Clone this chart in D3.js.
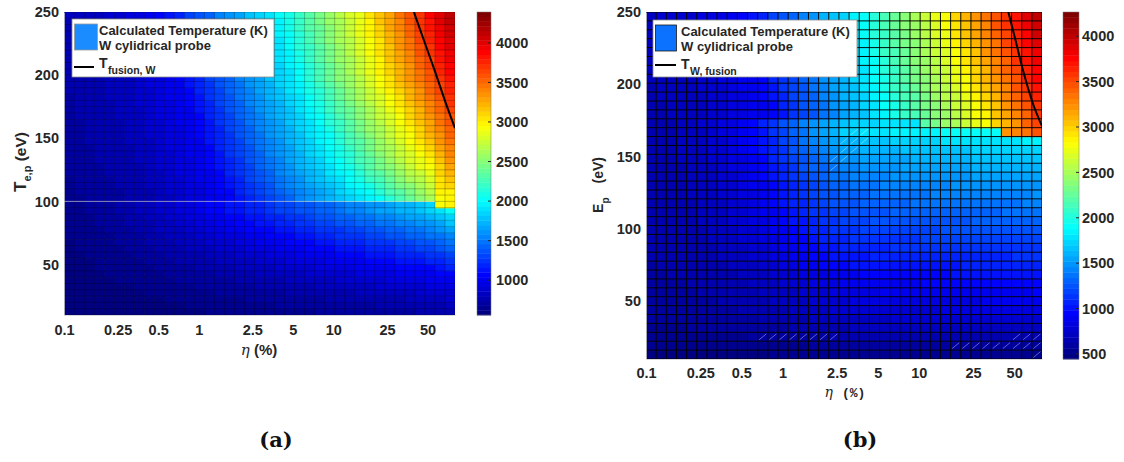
<!DOCTYPE html>
<html>
<head>
<meta charset="utf-8">
<script src="https://cdn.jsdelivr.net/npm/d3@7"></script>
<style>
  html, body { margin: 0; padding: 0; background: #fff; }
  svg { display: block; }
</style>
</head>
<body>
<svg id="fig" width="1124" height="462"></svg>
<script>
// ---- grid coordinates -------------------------------------------------
// eta (%) cell edges, log spaced from 0.1 to 80
const etaEdges = [0.1, 0.1187, 0.1409, 0.1672, 0.1985, 0.2356, 0.2797, 0.3320, 0.3940, 0.4677,
  0.5551, 0.6589, 0.7821, 0.9284, 1.1019, 1.3080, 1.5525, 1.8428, 2.1873, 2.5962,
  3.0817, 3.6578, 4.3417, 5.1534, 6.1169, 7.2606, 8.6180, 10.229, 12.141, 14.411,
  17.106, 20.304, 24.100, 28.606, 33.954, 40.302, 47.837, 56.781, 67.396, 80];
// electron temperature cell edges (eV), panel (a)
const teEdges = [10, 15, 20, 25, 30, 35, 40, 45, 50, 55, 60, 65, 70, 75, 80, 85, 90, 95, 100,
  105, 110, 115, 120, 125, 130, 135, 140, 145, 150, 155, 160, 165, 170, 175, 180, 185, 190,
  195, 200, 205, 210, 215, 220, 225, 230, 235, 240, 245, 250];
// ion energy cell edges (eV), panel (b)
const epEdges = [10, 16.15, 22.31, 28.46, 34.62, 40.77, 46.92, 53.08, 59.23, 65.38, 71.54,
  77.69, 83.85, 90, 96.15, 102.31, 108.46, 114.62, 120.77, 126.92, 133.08, 139.23, 145.38,
  151.54, 157.69, 163.85, 170, 176.15, 182.31, 188.46, 194.62, 200.77, 206.92, 213.08,
  219.23, 225.38, 231.54, 237.69, 243.85, 250];

// ---- calculated probe temperature (K) ----------------------------------
// panel (a): one row per Te cell, from Te = 10 eV upwards; 39 eta cells per row
const tempA = [
  [560,563,566,569,573,577,581,585,590,596,601,606,611,617,622,627,632,638,644,649,655,660,665,670,676,681,686,692,698,703,709,714,721,726,732,740,747,757,770],
  [565,569,572,576,580,585,590,594,601,607,613,619,625,631,637,643,650,656,663,669,675,681,688,694,700,706,712,719,725,732,739,745,752,759,766,774,783,795,810],
  [570,574,579,583,587,593,599,605,612,619,627,634,641,648,656,663,670,677,686,693,701,708,715,722,730,737,744,753,760,767,776,783,792,799,808,818,828,843,860],
  [575,580,585,590,595,602,609,615,624,632,640,649,657,665,674,682,691,699,709,717,726,734,743,751,759,768,776,786,794,803,813,821,831,840,850,861,873,890,910],
  [580,586,592,598,603,611,619,627,637,646,656,666,676,685,695,705,715,724,736,746,756,765,775,785,795,804,814,826,835,845,857,867,878,888,900,913,927,947,970],
  [585,592,598,605,612,621,630,638,650,661,672,683,694,705,716,727,739,750,763,774,785,796,808,819,830,841,852,865,876,888,901,912,925,937,950,965,981,1003,1030],
  [590,598,605,613,620,630,640,650,663,675,688,700,713,725,738,750,763,775,790,803,815,828,840,853,865,878,890,905,918,930,945,958,973,985,1000,1018,1035,1060,1090],
  [595,603,612,620,629,640,652,663,677,691,705,719,733,748,762,776,790,804,821,835,849,863,878,892,906,920,934,951,965,979,996,1010,1027,1041,1058,1078,1098,1126,1160],
  [600,610,619,629,638,651,664,677,693,709,725,741,757,773,789,805,821,837,856,872,888,904,920,936,952,968,984,1003,1019,1035,1054,1070,1090,1106,1125,1147,1170,1202,1240],
  [605,616,626,637,648,662,677,691,709,727,744,762,780,798,816,834,852,870,891,909,927,945,963,980,998,1016,1034,1055,1073,1091,1113,1131,1152,1170,1191,1216,1241,1277,1320],
  [610,622,634,646,657,673,689,705,725,744,764,784,804,823,843,863,883,902,926,946,966,985,1005,1025,1045,1064,1084,1108,1127,1147,1171,1191,1214,1234,1258,1285,1313,1353,1400],
  [615,628,641,654,667,684,702,719,740,762,784,805,827,849,870,892,913,935,961,983,1004,1026,1048,1069,1091,1112,1134,1160,1182,1203,1229,1251,1277,1298,1324,1355,1385,1428,1480],
  [620,634,649,663,677,696,715,734,758,782,805,829,853,877,900,924,948,972,1000,1024,1048,1071,1095,1119,1143,1166,1190,1219,1242,1266,1295,1318,1347,1371,1399,1432,1466,1513,1570],
  [625,641,656,672,687,708,729,749,775,801,827,853,879,904,930,956,982,1008,1039,1065,1091,1117,1143,1168,1194,1220,1246,1277,1303,1329,1360,1386,1417,1443,1474,1510,1546,1598,1660],
  [630,647,664,681,698,720,743,766,794,822,850,879,907,935,963,992,1020,1048,1082,1110,1139,1167,1195,1223,1252,1280,1308,1342,1370,1398,1432,1461,1494,1523,1557,1596,1636,1692,1760],
  [635,653,672,690,709,733,758,782,813,843,874,905,935,966,996,1027,1058,1088,1125,1156,1186,1217,1248,1278,1309,1339,1370,1407,1437,1468,1505,1535,1572,1603,1640,1682,1725,1787,1860],
  [640,660,681,701,722,749,776,803,837,871,905,939,973,1007,1041,1075,1109,1143,1184,1218,1252,1286,1320,1354,1388,1422,1456,1497,1531,1565,1606,1640,1680,1714,1755,1803,1850,1918,2000],
  [645,665,685,706,726,753,780,806,840,874,907,941,975,1008,1042,1075,1109,1143,1183,1217,1250,1284,1318,1351,1385,1418,1452,1492,1526,1560,1600,1634,1674,1708,1748,1795,1842,2950,2960],
  [660,675,689,704,719,733,748,763,783,817,851,886,920,954,989,1023,1072,1136,1200,1264,1328,1392,1456,1520,1584,1648,1712,1776,1840,1904,1968,2055,2164,2273,2382,2491,2600,2950,2990],
  [666,681,695,710,725,739,754,769,792,827,861,896,930,964,999,1041,1095,1161,1227,1293,1359,1425,1491,1557,1623,1689,1755,1821,1893,1965,2038,2128,2237,2345,2453,2562,2670,2970,3000],
  [672,687,701,716,731,746,761,776,802,836,871,906,940,974,1009,1059,1118,1186,1254,1322,1390,1458,1526,1594,1662,1730,1798,1866,1946,2027,2108,2202,2310,2417,2525,2632,2740,3030,3080],
  [678,693,708,723,738,752,767,782,811,846,880,915,950,985,1020,1078,1142,1211,1281,1351,1421,1491,1561,1631,1700,1770,1840,1910,2000,2088,2177,2275,2382,2489,2596,2703,2810,3050,3170],
  [684,699,714,729,744,759,774,789,821,855,890,924,960,995,1030,1096,1165,1236,1308,1380,1452,1524,1596,1668,1739,1811,1883,1955,2053,2150,2248,2349,2455,2561,2668,2774,2880,3090,3230],
  [690,705,720,735,750,765,780,795,830,865,900,935,970,1005,1040,1114,1188,1261,1335,1409,1483,1557,1631,1705,1778,1852,1926,2000,2106,2211,2317,2422,2528,2633,2739,2844,2950,3120,3290],
  [695,710,725,740,755,770,785,802,837,872,907,942,977,1012,1055,1130,1204,1278,1353,1427,1502,1576,1651,1726,1799,1874,1952,2034,2141,2247,2354,2461,2568,2674,2781,2893,3005,3169,3332],
  [700,715,730,745,760,775,790,809,844,879,914,949,984,1019,1071,1146,1221,1295,1371,1446,1521,1596,1671,1746,1821,1896,1978,2067,2175,2283,2391,2499,2608,2715,2823,2942,3060,3217,3374],
  [705,720,735,750,765,780,795,816,851,886,921,956,991,1026,1086,1162,1237,1313,1388,1464,1540,1615,1691,1767,1842,1918,2004,2101,2210,2319,2429,2538,2647,2756,2866,2990,3115,3266,3416],
  [710,725,740,755,770,785,800,823,858,893,928,963,998,1033,1102,1178,1254,1330,1406,1483,1559,1635,1711,1787,1864,1940,2030,2134,2244,2355,2466,2576,2687,2797,2908,3039,3170,3314,3458],
  [715,730,745,760,775,790,805,830,865,900,935,970,1005,1040,1117,1194,1270,1347,1424,1501,1578,1654,1731,1808,1885,1962,2056,2168,2279,2391,2503,2615,2727,2838,2950,3088,3225,3363,3500],
  [719,734,749,764,779,795,810,837,872,908,943,978,1013,1058,1135,1212,1289,1366,1443,1520,1598,1674,1752,1829,1906,1989,2088,2201,2312,2425,2538,2650,2763,2876,2992,3128,3264,3400,3535],
  [723,738,754,769,784,799,814,844,880,915,950,986,1021,1075,1153,1230,1307,1385,1462,1540,1618,1695,1772,1850,1927,2016,2120,2233,2346,2459,2572,2686,2799,2914,3035,3169,3302,3437,3570],
  [727,742,758,773,788,804,818,851,887,923,958,993,1028,1093,1170,1248,1326,1404,1481,1559,1638,1715,1792,1870,1948,2042,2151,2266,2379,2493,2607,2721,2834,2952,3077,3209,3341,3474,3605],
  [731,746,762,777,792,808,823,858,894,930,965,1001,1036,1110,1188,1266,1344,1422,1500,1578,1657,1735,1813,1891,1969,2069,2183,2298,2412,2527,2641,2756,2870,2989,3119,3249,3379,3510,3640],
  [735,750,766,781,796,812,829,865,901,937,973,1009,1053,1128,1206,1285,1363,1442,1520,1598,1678,1756,1834,1913,1999,2103,2218,2334,2448,2564,2679,2795,2910,3031,3159,3289,3417,3548,3676],
  [739,754,770,785,800,816,836,872,908,944,980,1017,1070,1146,1225,1304,1382,1461,1540,1619,1698,1777,1856,1935,2029,2137,2254,2371,2483,2600,2717,2834,2950,3073,3199,3329,3455,3586,3712],
  [742,758,774,789,805,821,842,878,915,952,988,1024,1086,1164,1243,1322,1402,1481,1560,1639,1719,1798,1877,1956,2060,2172,2289,2407,2519,2637,2754,2872,2990,3116,3240,3370,3494,3624,3748],
  [746,762,778,793,809,825,849,885,922,959,995,1032,1103,1182,1262,1341,1421,1500,1580,1660,1739,1819,1899,1978,2090,2206,2325,2444,2554,2673,2792,2911,3030,3158,3280,3410,3532,3662,3784],
  [750,766,782,797,813,829,855,892,929,966,1003,1040,1120,1200,1280,1360,1440,1520,1600,1680,1760,1840,1920,2000,2120,2240,2360,2480,2590,2710,2830,2950,3070,3200,3320,3450,3570,3700,3820],
  [755,771,787,802,818,834,862,899,936,973,1010,1056,1136,1216,1296,1376,1456,1536,1616,1696,1776,1856,1936,2024,2142,2262,2380,2500,2610,2730,2848,2970,3094,3224,3346,3478,3600,3732,3854],
  [760,776,792,807,823,839,870,907,944,981,1018,1072,1152,1232,1312,1392,1472,1552,1632,1712,1792,1872,1952,2048,2164,2284,2400,2520,2630,2750,2866,2990,3118,3248,3372,3506,3630,3764,3888],
  [765,781,797,813,829,845,877,914,951,988,1025,1088,1168,1248,1328,1408,1488,1568,1648,1728,1808,1888,1968,2072,2186,2306,2420,2540,2650,2770,2884,3010,3142,3272,3398,3534,3660,3796,3922],
  [770,786,802,818,834,850,885,922,959,996,1033,1104,1184,1264,1344,1424,1504,1584,1664,1744,1824,1904,1984,2096,2208,2328,2440,2560,2670,2790,2902,3030,3166,3296,3424,3562,3690,3828,3956],
  [775,791,807,823,839,855,892,929,966,1003,1040,1120,1200,1280,1360,1440,1520,1600,1680,1760,1840,1920,2000,2120,2230,2350,2460,2580,2690,2810,2920,3050,3190,3320,3450,3590,3720,3860,3990],
  [780,796,812,828,844,862,899,936,973,1010,1056,1136,1216,1296,1376,1456,1536,1616,1696,1776,1856,1936,2022,2140,2252,2370,2480,2598,2708,2826,2940,3072,3212,3344,3478,3618,3750,3890,4022],
  [785,801,817,833,849,869,906,943,981,1018,1072,1152,1232,1312,1392,1472,1552,1632,1712,1792,1872,1952,2044,2160,2274,2390,2500,2616,2726,2842,2960,3094,3234,3368,3506,3646,3780,3920,4054],
  [790,806,822,838,854,877,914,951,988,1025,1088,1168,1248,1328,1408,1488,1568,1648,1728,1808,1888,1968,2066,2180,2296,2410,2520,2634,2744,2858,2980,3116,3256,3392,3534,3674,3810,3950,4086],
  [795,811,827,843,859,883,920,958,995,1033,1104,1184,1264,1344,1424,1504,1584,1664,1744,1824,1904,1984,2090,2200,2320,2430,2540,2650,2770,2880,3000,3140,3280,3420,3560,3700,3840,3980,4120],
  [800,816,832,848,864,891,928,965,1003,1040,1120,1200,1280,1360,1440,1520,1600,1680,1760,1840,1920,2000,2110,2220,2340,2450,2560,2670,2780,2890,3020,3160,3300,3440,3590,3730,3870,4010,4150]
];

// panel (b): one row per E_p cell, from E_p = 10 eV upwards; 39 eta cells per row
const tempB = [
  [480,481,482,482,484,486,487,490,492,495,498,502,506,510,514,518,523,528,533,537,540,542,544,546,547,548,549,550,550,552,553,554,554,555,556,557,558,558,560],
  [510,511,512,513,516,518,520,523,527,531,535,540,545,551,556,563,569,576,583,588,593,596,598,600,602,604,605,606,607,609,610,611,612,613,615,616,617,618,620],
  [535,536,538,539,542,545,548,552,557,563,568,574,581,589,596,605,613,622,631,638,644,648,651,654,657,658,660,661,663,666,667,668,670,671,673,674,676,677,680],
  [555,557,559,560,564,567,571,576,581,588,595,602,611,620,629,639,650,660,671,679,686,692,695,699,702,704,706,707,709,713,714,716,718,720,721,723,725,727,730],
  [570,572,574,576,581,585,589,595,602,610,618,627,637,648,658,671,683,696,709,719,728,734,738,742,746,749,751,753,755,759,761,763,765,767,770,772,774,776,780],
  [585,587,590,592,597,602,607,614,622,632,641,651,663,676,688,703,717,732,747,759,769,776,781,786,791,793,796,798,801,806,808,810,813,815,818,820,823,825,830],
  [595,598,601,604,609,615,621,629,638,649,661,672,686,700,715,732,749,766,783,797,809,817,823,829,834,837,840,843,846,852,854,857,860,863,866,869,871,874,880],
  [605,608,611,615,621,627,634,643,653,666,679,691,707,723,739,759,778,797,816,832,845,855,861,867,874,877,880,883,887,893,896,899,903,906,909,912,915,919,925],
  [612,616,619,623,630,637,644,655,666,680,694,709,727,744,762,784,805,827,848,866,881,891,898,906,913,916,920,923,927,934,938,941,945,949,952,956,959,963,970],
  [618,622,626,630,638,646,654,666,678,694,710,727,747,767,787,811,835,859,883,903,920,932,940,948,956,960,964,968,972,980,984,988,992,996,1000,1004,1008,1012,1020],
  [623,627,632,636,645,654,663,676,694,711,734,760,791,822,853,884,910,937,959,977,990,999,1008,1012,1016,1021,1025,1030,1034,1038,1041,1043,1047,1050,1052,1056,1058,1061,1065],
  [627,632,637,641,651,661,670,685,704,724,748,777,811,844,878,912,941,970,994,1013,1028,1038,1047,1052,1057,1062,1067,1071,1076,1081,1083,1086,1091,1093,1096,1100,1103,1105,1110],
  [631,636,642,647,657,668,679,694,716,737,763,795,832,869,906,943,975,1007,1033,1054,1070,1081,1091,1097,1102,1107,1112,1118,1123,1128,1131,1134,1139,1141,1144,1149,1152,1155,1160],
  [634,640,646,651,663,674,686,703,726,749,778,813,853,893,934,974,1008,1043,1072,1095,1112,1124,1135,1141,1147,1152,1158,1164,1170,1175,1178,1181,1187,1190,1193,1198,1201,1204,1210],
  [637,643,649,656,668,681,693,712,737,762,793,830,874,917,961,1005,1042,1079,1110,1135,1154,1167,1179,1185,1191,1198,1204,1210,1216,1223,1226,1229,1235,1238,1241,1248,1251,1254,1260],
  [640,647,653,660,674,687,700,720,747,774,808,848,895,942,988,1035,1076,1116,1149,1176,1196,1210,1223,1230,1236,1243,1250,1256,1263,1270,1273,1277,1283,1287,1290,1297,1300,1303,1310],
  [642,649,656,664,678,692,707,728,757,786,822,865,915,965,1015,1066,1109,1152,1188,1216,1238,1252,1267,1274,1281,1288,1295,1303,1310,1317,1321,1324,1331,1335,1338,1346,1349,1353,1360],
  [644,652,659,667,682,698,713,736,767,797,836,881,935,989,1042,1096,1142,1188,1226,1257,1280,1295,1310,1318,1326,1333,1341,1349,1356,1364,1368,1372,1379,1383,1387,1395,1399,1402,1410],
  [646,654,662,670,687,703,719,744,776,809,850,898,955,1012,1069,1126,1175,1224,1265,1297,1322,1338,1354,1362,1370,1379,1387,1395,1403,1411,1415,1419,1427,1432,1436,1444,1448,1452,1460],
  [648,657,665,674,691,708,726,751,786,820,864,915,976,1036,1096,1157,1208,1260,1303,1338,1363,1381,1398,1407,1415,1424,1432,1441,1450,1458,1463,1467,1476,1480,1484,1493,1497,1501,1510],
  [650,659,668,677,696,714,732,759,796,832,878,932,996,1060,1123,1187,1242,1296,1342,1378,1405,1424,1442,1451,1460,1469,1478,1487,1496,1505,1510,1515,1524,1528,1533,1542,1546,1551,1560],
  [651,661,670,680,699,719,738,767,806,845,893,951,1019,1087,1155,1223,1281,1339,1387,1426,1455,1475,1494,1504,1513,1523,1533,1542,1552,1562,1567,1572,1581,1586,1591,1601,1605,1610,1620],
  [652,662,673,683,703,724,745,775,816,858,909,971,1043,1115,1187,1259,1320,1382,1433,1474,1505,1526,1546,1557,1567,1577,1587,1598,1608,1618,1623,1629,1639,1644,1649,1659,1665,1670,1680],
  [653,664,675,686,708,730,752,785,829,872,927,993,1070,1147,1223,1300,1366,1432,1487,1531,1564,1585,1607,1618,1629,1640,1651,1662,1673,1684,1690,1695,1706,1712,1717,1728,1734,1739,1750],
  [654,666,678,689,713,736,760,795,842,889,948,1019,1101,1183,1266,1348,1418,1489,1548,1595,1630,1654,1677,1689,1701,1712,1724,1736,1748,1759,1765,1771,1783,1789,1795,1806,1812,1818,1830],
  [655,667,680,692,717,742,767,804,854,904,966,1041,1128,1215,1302,1390,1464,1539,1601,1711,1748,1773,1798,1811,1823,1836,1848,1860,1873,1885,1892,1898,1910,1916,1923,3200,3290,3360,3450],
  [657,670,682,695,720,745,771,809,859,910,973,1049,1137,1225,1314,1402,1478,1554,1617,1667,1705,1731,1756,1768,1781,1794,1806,2230,2330,2431,2531,2632,2732,2833,2970,3108,3245,3383,3520],
  [662,675,689,702,716,729,745,776,807,838,869,906,947,1030,1113,1196,1279,1363,1446,1529,1612,1695,1778,1866,1960,2062,2164,2266,2367,2469,2570,2672,2778,2885,3020,3157,3292,3428,3564],
  [667,681,694,708,721,734,754,785,816,847,878,920,972,1055,1138,1221,1304,1388,1471,1554,1637,1720,1803,1895,1993,2096,2199,2302,2404,2507,2609,2712,2824,2937,3071,3205,3339,3474,3608],
  [673,686,700,713,727,740,762,793,824,856,888,935,997,1080,1163,1246,1329,1412,1495,1579,1662,1745,1828,1917,2025,2129,2233,2337,2441,2545,2649,2753,2871,2988,3121,3254,3387,3519,3652],
  [678,692,705,719,732,745,771,802,833,865,897,949,1022,1105,1188,1271,1354,1437,1520,1604,1687,1770,1853,1946,2058,2163,2268,2372,2478,2583,2688,2793,2917,3040,3172,3302,3434,3564,3696],
  [683,697,710,724,738,751,779,811,842,874,906,964,1047,1130,1213,1296,1379,1462,1545,1629,1712,1795,1878,1984,2090,2196,2303,2409,2515,2621,2727,2833,2963,3092,3222,3351,3481,3610,3740],
  [690,704,717,730,744,758,787,818,849,881,920,982,1065,1148,1231,1314,1397,1480,1563,1647,1730,1815,1902,2009,2116,2223,2331,2437,2544,2651,2760,2869,2999,3128,3257,3386,3516,3645,3774],
  [696,710,723,737,750,766,794,826,856,888,934,999,1082,1165,1248,1332,1415,1498,1581,1664,1747,1835,1926,2034,2142,2250,2358,2466,2574,2682,2794,2906,3035,3164,3293,3421,3551,3679,3809],
  [703,717,730,743,756,773,802,833,863,895,948,1017,1100,1183,1266,1350,1433,1516,1599,1682,1765,1855,1950,2059,2168,2277,2386,2494,2603,2712,2827,2942,3071,3200,3328,3456,3586,3714,3843],
  [710,723,736,750,763,781,809,840,871,902,962,1035,1118,1201,1284,1367,1451,1534,1617,1700,1783,1875,1974,2084,2193,2303,2413,2523,2633,2742,2860,2978,3107,3235,3364,3492,3620,3748,3877],
  [717,730,743,756,769,788,817,848,878,909,976,1053,1136,1218,1302,1385,1469,1552,1635,1718,1801,1895,1998,2109,2219,2330,2441,2551,2662,2773,2894,3015,3143,3272,3399,3527,3656,3783,3911],
  [723,736,750,762,775,795,824,855,885,915,990,1070,1153,1236,1319,1403,1486,1570,1653,1735,1818,1915,2022,2134,2245,2357,2469,2580,2692,2803,2927,3051,3179,3307,3434,3562,3690,3817,3946],
  [730,743,756,768,781,803,832,862,892,922,1005,1088,1171,1254,1337,1421,1504,1587,1670,1753,1836,1934,2046,2159,2271,2384,2496,2608,2721,2833,2960,3088,3215,3343,3470,3597,3725,3852,3980]
];

// tungsten melting contour (T = 3695 K)
const fusionEtaA = [39.6, 46.5, 56.8, 69.3, 80];
const fusionTeA  = [250, 229, 203, 176, 158];
const fusionEtaB = [45.3, 50.7, 58.3, 69.0, 80];
const fusionEpB  = [250, 232, 209, 186, 171];

// cells of panel (b) carrying a faint hatch  [eta cell, E_p cell]
const hatchCellsB = [[11,2],[12,2],[13,2],[14,2],[15,2],[16,2],[17,2],[18,2],
  [30,1],[31,1],[32,1],[33,1],[34,1],[35,1],[36,1],[37,1],[38,1],[36,2],[37,2],[38,2],[38,0],
  [20,25],[21,25],[19,24],[20,24],[21,24],[19,23],[20,23],[18,22],[19,22],[18,21]];

// ticks and labels
const etaTicks = [0.1, 0.25, 0.5, 1, 2.5, 5, 10, 25, 50];
const energyTicks = [50, 100, 150, 200, 250];
const cbTicksA = [1000, 1500, 2000, 2500, 3000, 3500, 4000];
const cbTicksB = [500, 1000, 1500, 2000, 2500, 3000, 3500, 4000];
const colorRangeA = [560, 4390];
const colorRangeB = [444, 4267];
const legendLines = ['Calculated Temperature (K)', 'W cylidrical probe'];

// ---- drawing ----------------------------------------------------------
const FONT = '"Liberation Sans", Arial, Helvetica, sans-serif';
const INK = '#262626';
const svg = d3.select('#fig');

// MATLAB-style jet colormap, 64 levels
function jetColor(v, dom) {
  const n = 64;
  let k = Math.floor((v - dom[0]) / (dom[1] - dom[0]) * n);
  k = Math.max(0, Math.min(n - 1, k));
  const u = k / (n - 1);
  const c = q => Math.max(0, Math.min(1, q));
  const r = c(1.5 - Math.abs(4 * u - 3));
  const g = c(1.5 - Math.abs(4 * u - 2));
  const b = c(1.5 - Math.abs(4 * u - 1));
  return d3.rgb(r * 255, g * 255, b * 255).formatHex();
}

function drawPanel(p) {
  const x = d3.scaleLog().domain([etaEdges[0], etaEdges[etaEdges.length - 1]]).range([p.left, p.right]);
  const y = d3.scaleLinear().domain([p.edges[0], p.edges[p.edges.length - 1]]).range([p.bottom, p.top]);
  const root = svg.append('g');

  const clipId = 'clip-' + p.id;
  root.append('clipPath').attr('id', clipId).append('rect')
    .attr('x', p.left).attr('y', p.top).attr('width', p.right - p.left).attr('height', p.bottom - p.top);

  const plot = root.append('g').attr('clip-path', `url(#${clipId})`);

  // heat-map cells
  const cells = [];
  p.temps.forEach((row, j) => row.forEach((v, i) => cells.push({ i, j, v })));
  plot.append('g').selectAll('rect').data(cells).join('rect')
    .attr('x', d => x(etaEdges[d.i]))
    .attr('y', d => y(p.edges[d.j + 1]))
    .attr('width', d => x(etaEdges[d.i + 1]) - x(etaEdges[d.i]) + 0.6)
    .attr('height', d => y(p.edges[d.j]) - y(p.edges[d.j + 1]) + 0.6)
    .attr('fill', d => jetColor(d.v, p.colorRange));

  // faint hatching
  plot.append('g').attr('stroke', 'rgba(255,255,255,0.55)').attr('stroke-width', 0.7)
    .selectAll('line').data(p.hatches).join('line')
    .attr('x1', d => x(etaEdges[d[0]]) + 1.5).attr('y1', d => y(p.edges[d[1]]) - 1.5)
    .attr('x2', d => x(etaEdges[d[0] + 1]) - 1.5).attr('y2', d => y(p.edges[d[1] + 1]) + 1.5);

  // cell edges
  const grid = plot.append('g').attr('stroke', '#000').attr('stroke-opacity', p.gridOpacity)
    .attr('stroke-width', p.gridWidth);
  grid.append('g').selectAll('line').data(etaEdges).join('line')
    .attr('x1', d => x(d)).attr('x2', d => x(d)).attr('y1', p.top).attr('y2', p.bottom);
  grid.append('g').selectAll('line').data(p.edges).join('line')
    .attr('x1', p.left).attr('x2', p.right).attr('y1', d => y(d)).attr('y2', d => y(d));

  if (p.seam) {
    plot.append('line')
      .attr('x1', x(p.seam.from)).attr('x2', x(p.seam.to))
      .attr('y1', y(p.seam.at)).attr('y2', y(p.seam.at))
      .attr('stroke', '#fff').attr('stroke-opacity', 0.55).attr('stroke-width', 1);
  }

  // melting contour
  plot.append('path')
    .datum(d3.zip(p.fusionEta, p.fusionE))
    .attr('d', d3.line().x(d => x(d[0])).y(d => y(d[1])).curve(d3.curveCatmullRom))
    .attr('fill', 'none').attr('stroke', '#000').attr('stroke-width', 2);

  // axes
  const styleText = sel => sel.attr('font-family', FONT).attr('font-size', 14.5)
    .attr('font-weight', 'bold').attr('fill', INK);

  const ax = root.append('g').attr('transform', `translate(0,${p.bottom})`)
    .call(d3.axisBottom(x).tickValues(etaTicks).tickFormat(d => String(d)).tickSize(0).tickPadding(p.xPad));
  ax.select('.domain').attr('stroke', '#cfcfcf').attr('stroke-width', 0.8);
  styleText(ax.selectAll('text'));

  const ay = root.append('g').attr('transform', `translate(${p.left},0)`)
    .call(d3.axisLeft(y).tickValues(energyTicks).tickFormat(d => String(d)).tickSize(0).tickPadding(5));
  ay.select('.domain').attr('stroke', '#cfcfcf').attr('stroke-width', 0.8);
  styleText(ay.selectAll('text'));

  // colorbar
  const cy = d3.scaleLinear().domain(p.colorRange).range([p.bottom, p.top]);
  const span = p.colorRange[1] - p.colorRange[0];
  const bands = d3.range(64).map(k => [p.colorRange[0] + k * span / 64, p.colorRange[0] + (k + 1) * span / 64]);
  const cb = root.append('g');
  cb.selectAll('rect').data(bands).join('rect')
    .attr('x', p.cbLeft).attr('width', p.cbRight - p.cbLeft)
    .attr('y', d => cy(d[1])).attr('height', d => cy(d[0]) - cy(d[1]) + 0.4)
    .attr('fill', d => jetColor((d[0] + d[1]) / 2, p.colorRange));
  cb.append('rect').attr('x', p.cbLeft).attr('y', p.top).attr('width', p.cbRight - p.cbLeft)
    .attr('height', p.bottom - p.top).attr('fill', 'none').attr('stroke', '#7a7a7a').attr('stroke-width', 0.5);
  cb.append('g').selectAll('line').data(p.cbTicks).join('line')
    .attr('x1', p.cbRight - 3).attr('x2', p.cbRight).attr('y1', d => cy(d)).attr('y2', d => cy(d))
    .attr('stroke', INK).attr('stroke-width', 1);
  const ac = root.append('g').attr('transform', `translate(${p.cbRight},0)`)
    .call(d3.axisRight(cy).tickValues(p.cbTicks).tickFormat(d => String(d)).tickSize(0).tickPadding(p.cbPad));
  ac.select('.domain').remove();
  styleText(ac.selectAll('text'));

  // legend
  const lg = root.append('g').attr('transform', `translate(${p.legend.x},${p.legend.y})`);
  lg.append('rect').attr('width', p.legend.w).attr('height', p.legend.h)
    .attr('fill', '#fff').attr('stroke', '#8c8c8c').attr('stroke-width', 0.8);
  lg.append('rect').attr('x', 2.5).attr('y', 5).attr('width', p.legend.patchW).attr('height', 26)
    .attr('fill', p.legend.patch).attr('stroke', p.legend.patchEdge).attr('stroke-width', 0.8);
  const lt = lg.append('g').attr('font-family', FONT).attr('font-weight', 'bold').attr('fill', INK);
  legendLines.forEach((s, k) => lt.append('text').attr('x', p.legend.tx).attr('y', 15.5 + k * 15)
    .attr('font-size', 13).text(s));
  lg.append('line').attr('x1', 2).attr('x2', p.legend.tx - 5).attr('y1', p.legend.lineY).attr('y2', p.legend.lineY)
    .attr('stroke', '#000').attr('stroke-width', 2);
  const tf = lt.append('text').attr('x', p.legend.tx).attr('y', 49);
  tf.append('tspan').attr('font-size', 14).text('T');
  tf.append('tspan').attr('font-size', 10.5).attr('dy', 5.5).attr('dx', 0.5).text(p.legend.sub);

  return { x, y };
}

drawPanel({
  id: 'a', left: 64, right: 455, top: 12, bottom: 315,
  edges: teEdges, temps: tempA, colorRange: colorRangeA,
  gridOpacity: 0.36, gridWidth: 0.7, hatches: [],
  seam: { from: 0.1, to: etaEdges[37], at: 100 },
  fusionEta: fusionEtaA, fusionE: fusionTeA,
  cbLeft: 477, cbRight: 491, cbTicks: cbTicksA, cbPad: 5, xPad: 10,
  legend: { x: 72, y: 19, w: 202, h: 58, patchW: 23, patch: '#1a8cff', patchEdge: '#9a9a9a',
            tx: 27, lineY: 48, sub: 'fusion, W' }
});

drawPanel({
  id: 'b', left: 646, right: 1042, top: 12, bottom: 359,
  edges: epEdges, temps: tempB, colorRange: colorRangeB,
  gridOpacity: 0.95, gridWidth: 1, hatches: hatchCellsB,
  seam: null,
  fusionEta: fusionEtaB, fusionE: fusionEpB,
  cbLeft: 1063, cbRight: 1079, cbTicks: cbTicksB, cbPad: 3, xPad: 9,
  legend: { x: 653, y: 20, w: 204, h: 57, patchW: 21, patch: '#0a72ff', patchEdge: '#1a1a1a',
            tx: 28, lineY: 45, sub: 'W, fusion' }
});

// axis titles
const titles = svg.append('g').attr('font-family', FONT).attr('font-weight', 'bold').attr('fill', INK);

// panel (a): eta (%) and T_e,p (eV)
const xa = titles.append('text').attr('x', 259).attr('y', 355).attr('text-anchor', 'middle');
xa.append('tspan').attr('font-family', '"DejaVu Serif", "Liberation Serif", serif').attr('font-style', 'italic')
  .attr('font-weight', 'normal').attr('font-size', 15).text('η');
xa.append('tspan').attr('font-size', 15).text(' (%)');

const ya = titles.append('text').attr('transform', 'translate(26,162) rotate(-90)').attr('text-anchor', 'middle');
ya.append('tspan').attr('font-size', 17).text('T');
ya.append('tspan').attr('font-size', 11).attr('dy', 5).text('e,p');
ya.append('tspan').attr('font-size', 15.5).attr('dy', -5).text(' (eV)');

// panel (b): eta (%) and E_p (eV)
const xb = titles.append('text').attr('x', 845).attr('y', 397).attr('text-anchor', 'middle');
xb.append('tspan').attr('font-family', '"DejaVu Serif", "Liberation Serif", serif').attr('font-style', 'italic')
  .attr('font-weight', 'normal').attr('font-size', 14).text('η');
xb.append('tspan').attr('font-family', '"Liberation Mono", "DejaVu Sans Mono", monospace')
  .attr('font-size', 13).attr('dx', 9).text('(%)');

const yb = titles.append('text').attr('transform', 'translate(603,185) rotate(-90)').attr('text-anchor', 'middle');
yb.append('tspan').attr('font-size', 14).text('E');
yb.append('tspan').attr('font-size', 10).attr('dy', 6).text('p');
yb.append('tspan').attr('font-size', 14).attr('dy', -6).attr('dx', 14).text('(eV)');

// sub-figure captions
const caps = svg.append('g').attr('font-family', '"DejaVu Serif", "Liberation Serif", serif')
  .attr('font-weight', 'bold').attr('font-size', 21).attr('fill', '#111').attr('text-anchor', 'middle');
caps.append('text').attr('x', 276).attr('y', 447).text('(a)');
caps.append('text').attr('x', 860).attr('y', 447).text('(b)');
</script>
</body>
</html>
